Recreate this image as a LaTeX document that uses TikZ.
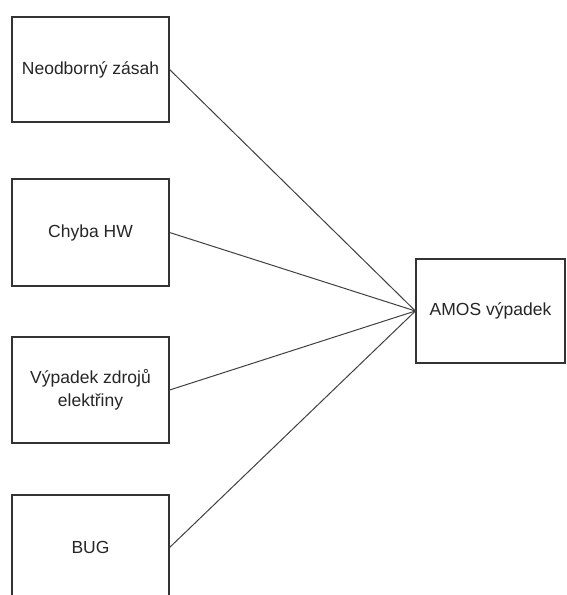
\documentclass[tikz,border=0pt]{standalone}
\usepackage{fontspec}
\setmainfont{Liberation Sans}
\begin{document}
\begin{tikzpicture}[x=1pt,y=-1pt,
  cause/.style={draw=black!80, line width=1.2pt, fill=white, text=black!85,
    minimum width=157pt, inner sep=0pt, align=center,
    font=\fontsize{17.5}{23.5}\selectfont},
  effect/.style={cause, minimum width=149pt, minimum height=104pt},
  link/.style={draw=black!75, line width=1pt}]
\useasboundingbox (0,0) rectangle (566,595);
\clip (0,0) rectangle (566,595);
\node[cause, minimum height=105pt] (n1) at (90.5,69.5) {Neodborný zásah};
\node[cause, minimum height=107pt] (n2) at (90.5,232.5) {Chyba HW};
\node[cause, minimum height=106pt] (n3) at (90.5,390) {Výpadek zdrojů\\elektřiny};
\node[cause, minimum height=105pt] (n4) at (90.5,547.5) {BUG};
\node[effect] (amos) at (490.5,311) {AMOS výpadek};
\foreach \n in {n1,n2,n3,n4}
  \draw[link] (\n.east) -- (amos.west);
\end{tikzpicture}
\end{document}
